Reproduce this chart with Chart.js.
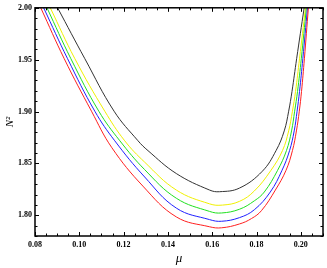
<!DOCTYPE html>
<html>
<head>
<meta charset="utf-8">
<script src="https://cdn.jsdelivr.net/npm/chart.js@4/dist/chart.umd.min.js"></script>
<style>
  html, body { margin: 0; padding: 0; background: #fff; }
  #wrap { width: 327px; height: 268px; }
</style>
</head>
<body>
<div id="wrap"><canvas id="grafico"></canvas></div>
<script>
// valores (mu, N^2) para cada curva
const muPreto = [0.0902, 0.1025, 0.1157, 0.1265, 0.1310, 0.1438, 0.1588, 0.1633, 0.1723, 0.1826, 0.1888, 0.1925, 0.1945, 0.1960, 0.1981, 0.2015];
const n2Preto = [2.0000, 1.9509, 1.9003, 1.8718, 1.8623, 1.8402, 1.8243, 1.8227, 1.8262, 1.8424, 1.8623, 1.8813, 1.9003, 1.9193, 1.9509, 2.0000];

const muAmarelo = [0.0869, 0.0980, 0.1115, 0.1205, 0.1295, 0.1438, 0.1588, 0.1646, 0.1723, 0.1790, 0.1865, 0.1917, 0.1945, 0.1962, 0.1976, 0.1994, 0.2021];
const n2Amarelo = [2.0000, 1.9509, 1.9003, 1.8718, 1.8512, 1.8243, 1.8110, 1.8098, 1.8134, 1.8234, 1.8433, 1.8623, 1.8813, 1.9003, 1.9193, 1.9509, 2.0000];

const muVerde = [0.0854, 0.0962, 0.1088, 0.1183, 0.1295, 0.1438, 0.1588, 0.1642, 0.1723, 0.1790, 0.1835, 0.1895, 0.1935, 0.1958, 0.1972, 0.1985, 0.2002, 0.2025];
const n2Verde = [2.0000, 1.9509, 1.9003, 1.8718, 1.8440, 1.8164, 1.8037, 1.8022, 1.8058, 1.8139, 1.8224, 1.8433, 1.8623, 1.8813, 1.9003, 1.9193, 1.9509, 2.0000];

const muAzul = [0.0839, 0.0947, 0.1070, 0.1160, 0.1295, 0.1438, 0.1588, 0.1642, 0.1723, 0.1790, 0.1862, 0.1915, 0.1949, 0.1970, 0.1983, 0.1994, 0.2009, 0.2030];
const n2Azul = [2.0000, 1.9509, 1.9003, 1.8718, 1.8369, 1.8069, 1.7958, 1.7942, 1.7977, 1.8053, 1.8224, 1.8433, 1.8623, 1.8813, 1.9003, 1.9193, 1.9509, 2.0000];

const muVermelho = [0.0826, 0.0932, 0.1055, 0.1147, 0.1287, 0.1438, 0.1588, 0.1642, 0.1723, 0.1777, 0.1822, 0.1885, 0.1933, 0.1962, 0.1980, 0.1993, 0.2003, 0.2016, 0.2034];
const n2Vermelho = [2.0000, 1.9509, 1.9003, 1.8651, 1.8281, 1.7984, 1.7889, 1.7879, 1.7916, 1.7968, 1.8044, 1.8243, 1.8433, 1.8623, 1.8813, 1.9003, 1.9193, 1.9509, 2.0000];

const eixoX = { min: 0.08, max: 0.21, passo: 0.005 };
const eixoY = { min: 1.78, max: 2.00, passo: 0.01 };

function pontos(xs, ys) {
  return xs.map((x, i) => ({ x: x, y: ys[i] }));
}

function serie(xs, ys, cor) {
  return {
    data: pontos(xs, ys),
    borderColor: cor,
    borderWidth: 1,
    pointRadius: 0,
    showLine: true,
    fill: false,
    tension: 0.4
  };
}

const fonteTicks = { family: 'Liberation Serif', size: 8, weight: 'bold' };

// desenha a moldura e os ticks para dentro
const moldura = {
  id: 'moldura',
  afterDatasetsDraw(chart) {
    const ctx = chart.ctx;
    const a = chart.chartArea;
    const sx = chart.scales.x;
    const sy = chart.scales.y;
    ctx.save();
    ctx.strokeStyle = '#000';
    ctx.lineWidth = 1;
    sx.ticks.forEach((t, i) => {
      const px = Math.round(sx.getPixelForTick(i)) + 0.5;
      const len = t.label ? 4 : 2.5;
      ctx.beginPath();
      ctx.moveTo(px, a.bottom); ctx.lineTo(px, a.bottom - len);
      ctx.moveTo(px, a.top); ctx.lineTo(px, a.top + len);
      ctx.stroke();
    });
    sy.ticks.forEach((t, i) => {
      const py = Math.round(sy.getPixelForTick(i)) + 0.5;
      const len = t.label ? 4 : 2.5;
      ctx.beginPath();
      ctx.moveTo(a.left, py); ctx.lineTo(a.left + len, py);
      ctx.moveTo(a.right, py); ctx.lineTo(a.right - len, py);
      ctx.stroke();
    });
    ctx.lineWidth = 1.5;
    ctx.strokeRect(a.left, a.top, a.right - a.left, a.bottom - a.top);
    ctx.restore();
  }
};

document.addEventListener('DOMContentLoaded', function () {
  const ctx = document.getElementById('grafico');
  new Chart(ctx, {
    type: 'scatter',
    data: {
      datasets: [
        serie(muVermelho, n2Vermelho, '#ff2020'),
        serie(muAzul, n2Azul, '#2020ff'),
        serie(muVerde, n2Verde, '#20e020'),
        serie(muAmarelo, n2Amarelo, '#f0f000'),
        serie(muPreto, n2Preto, '#333333')
      ]
    },
    options: {
      responsive: true,
      maintainAspectRatio: false,
      animation: false,
      events: [],
      layout: { padding: { top: 5, right: 2, left: 0, bottom: 0 } },
      plugins: {
        legend: { display: false },
        tooltip: { enabled: false }
      },
      scales: {
        x: {
          type: 'linear',
          min: eixoX.min,
          max: eixoX.max,
          afterFit(scale) { scale.height = 32; },
          grid: { display: false, drawTicks: false, tickLength: 0 },
          border: { display: false },
          ticks: {
            stepSize: eixoX.passo,
            autoSkip: false,
            maxRotation: 0,
            padding: 4,
            color: '#000',
            font: fonteTicks,
            callback: v => (Math.round(v * 1000) % 20 === 0 ? v.toFixed(2) : '')
          },
          title: {
            display: true,
            text: 'μ',
            color: '#000',
            padding: { top: 0, bottom: 2 },
            font: { family: 'Liberation Serif', size: 13, style: 'italic' }
          }
        },
        y: {
          type: 'linear',
          min: eixoY.min,
          max: eixoY.max,
          afterFit(scale) { scale.width = 35; },
          grid: { display: false, drawTicks: false, tickLength: 0 },
          border: { display: false },
          ticks: {
            stepSize: eixoY.passo,
            autoSkip: false,
            padding: 3,
            color: '#000',
            font: fonteTicks,
            callback: v => (Math.round(v * 100) % 5 === 0 ? v.toFixed(2) : '')
          },
          title: {
            display: true,
            text: 'N²',
            color: '#000',
            padding: { top: 4, bottom: 0 },
            font: { family: 'Liberation Serif', size: 11, style: 'italic' }
          }
        }
      }
    },
    plugins: [moldura]
  });
});
</script>
</body>
</html>
